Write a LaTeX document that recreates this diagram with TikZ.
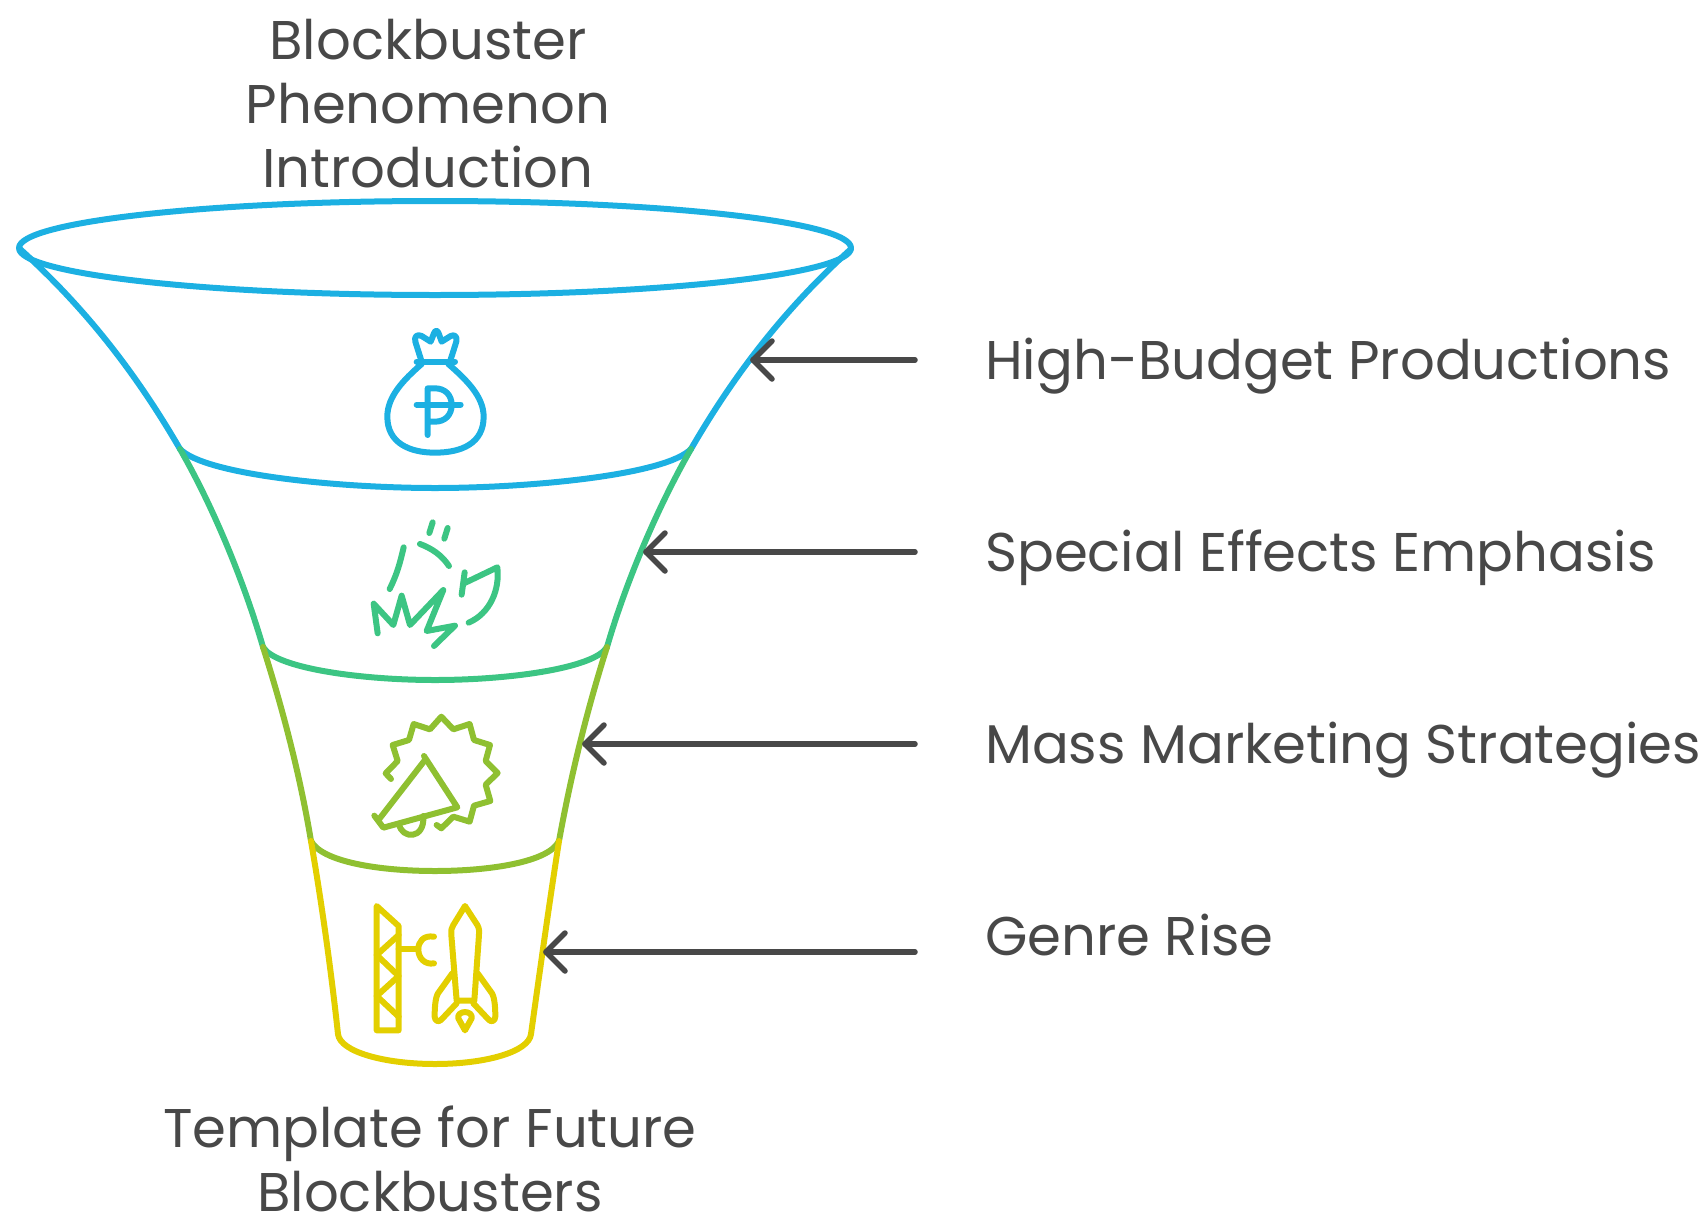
\documentclass[tikz,border=0pt]{standalone}
\usepackage{fontspec}
\setmainfont{Poppins}
\definecolor{cblue}{HTML}{1CB0E2}
\definecolor{cgreen}{HTML}{3CC583}
\definecolor{clime}{HTML}{8FC031}
\definecolor{cyel}{HTML}{E3CF00}
\definecolor{ctext}{HTML}{484848}
\tikzset{
  seg/.style={line width=6pt,line cap=round,line join=round},
  ico/.style={line width=6pt,line cap=round,line join=round},
  lbl/.style={text=ctext,font=\fontsize{54.5}{64}\selectfont,inner sep=0pt,align=center},
  side/.style={lbl,anchor=base west},
  arr/.style={line width=5.5pt,color=ctext,line cap=round,line join=round},
}
\begin{document}
\begin{tikzpicture}[x=1pt,y=-1pt]
\useasboundingbox (0,0) rectangle (1704,1218);
% funnel
\coordinate (a0l) at (20,249); \coordinate (a0r) at (851,249);
\coordinate (a1l) at (180,449); \coordinate (a1r) at (691,449);
\coordinate (a2l) at (263,647); \coordinate (a2r) at (607,647);
\coordinate (a3l) at (311,841); \coordinate (a3r) at (559,841);
\coordinate (a4l) at (338,1034); \coordinate (a4r) at (531,1034);
\draw[seg,cblue] (a0l) .. controls (90,312) and (140,380) .. (a1l);
\draw[seg,cblue] (a0r) .. controls (781,312) and (731,380) .. (a1r);
\draw[seg,cblue] (a1l) .. controls (205,475) and (340,488) .. (435,488) .. controls (530,488) and (666,475) .. (a1r);
\draw[seg,cgreen] (a1l) .. controls (215,510) and (245,585) .. (a2l);
\draw[seg,cgreen] (a1r) .. controls (656,510) and (625,585) .. (a2r);
\draw[seg,cgreen] (a2l) .. controls (275,668) and (360,680) .. (435,680) .. controls (510,680) and (595,668) .. (a2r);
\draw[seg,clime] (a2l) .. controls (283,710) and (300,775) .. (a3l);
\draw[seg,clime] (a2r) .. controls (587,710) and (571,775) .. (a3r);
\draw[seg,clime] (a3l) .. controls (322,862) and (380,871) .. (435,871) .. controls (490,871) and (549,862) .. (a3r);
\draw[seg,cyel] (a3l) .. controls (322,905) and (331,970) .. (a4l);
\draw[seg,cyel] (a3r) .. controls (549,905) and (540,970) .. (a4r);
\draw[seg,cyel] (a4l) .. controls (340,1052) and (385,1064) .. (435,1064) .. controls (485,1064) and (529,1052) .. (a4r);
\draw[seg,cblue] (435,248) ellipse [x radius=416,y radius=47];
% money bag
\begin{scope}[shift={(340,310)},x=0.3333pt,y=-0.3333pt,ico,cblue]
\draw (245,155) -- (226,95) .. controls (222,78) and (232,72) .. (245,78) -- (272,95) -- (282,70) .. controls (286,60) and (292,60) .. (296,70) -- (305,95) -- (332,78) .. controls (345,72) and (352,80) .. (349,95) -- (330,155);
\draw (230,155) -- (345,155);
\draw (245,162) .. controls (190,210) and (142,260) .. (142,320) .. controls (142,400) and (210,428) .. (285,428) .. controls (365,428) and (431,400) .. (431,320) .. controls (431,260) and (380,210) .. (325,162);
\draw (263,375) -- (263,235) -- (285,235) .. controls (315,235) and (335,255) .. (335,285) .. controls (335,315) and (315,335) .. (285,335) -- (263,335);
\draw (230,284) -- (362,284);
\end{scope}
% effects
\begin{scope}[shift={(340,500)},x=0.3333pt,y=-0.3333pt,ico,cgreen]
\draw (278,67) -- (268,99);
\draw (323,84) -- (313,116);
\draw (240,132) .. controls (275,145) and (305,165) .. (327,198);
\draw (191,142) .. controls (180,190) and (170,225) .. (149,267);
\draw (113,400) -- (101,311) -- (160,375) -- (185,287) -- (210,375) -- (310,270) -- (260,393) -- (345,377) -- (282,438);
\draw (374,217) -- (365,284);
\draw (372,250) -- (472,202) .. controls (480,270) and (450,340) .. (386,368);
\end{scope}
% megaphone
\begin{scope}[shift={(340,700)},x=0.3333pt,y=-0.3333pt,ico,clime]
\draw (153,237) -- (137,220) -- (173,183) -- (158,135) -- (207,120) -- (221,72) -- (270,88) -- (304,50) -- (340,88) -- (389,72) -- (402,120) -- (450,135) -- (437,183) -- (473,219) -- (437,254) -- (451,303) -- (402,317) -- (389,365) -- (340,350) -- (304,385) -- (290,375);
\draw (252,168) -- (352,322) -- (130,383) -- (103,347);
\draw (117,358) -- (255,180);
\draw (177,372) .. controls (185,418) and (255,420) .. (250,348);
\end{scope}
% tower and rocket
\begin{scope}[shift={(340,890)},x=0.3333pt,y=-0.3333pt,ico,cyel]
\draw (110,48) -- (176,108) -- (176,421) -- (110,421) -- cycle;
\draw (176,135) -- (110,195) -- (176,258) -- (110,318) -- (176,380);
\draw (176,178) -- (235,178);
\draw (282,140) .. controls (250,135) and (235,155) .. (235,178) .. controls (235,205) and (255,225) .. (282,220);
\draw (375,48) -- (412,105) .. controls (418,115) and (418,125) .. (417,135) -- (403,332) -- (350,332) -- (334,135) .. controls (333,120) and (335,112) .. (340,105) -- cycle;
\draw (337,250) -- (294,310) .. controls (285,325) and (284,360) .. (284,380) .. controls (285,393) and (295,397) .. (303,390) -- (350,340);
\draw (413,250) -- (456,310) .. controls (465,325) and (466,360) .. (466,380) .. controls (465,393) and (455,397) .. (447,390) -- (400,340);
\draw (375,421) -- (355,385) .. controls (350,360) and (400,360) .. (395,385) -- cycle;
\end{scope}
% texts
\node[lbl] (top) at (428,104) {Blockbuster\\Phenomenon\\Introduction};
\node[lbl] (bot) at (430,1159) {Template for Future\\Blockbusters};
\node[side] (t1) at (985,379) {High-Budget Productions};
\node[side] (t2) at (985,571) {Special Effects Emphasis};
\node[side] (t3) at (985,763) {Mass Marketing Strategies};
\node[side] (t4) at (985,955) {Genre Rise};
% arrows
\foreach \i/\xa/\ya in {1/753/360,2/646/552,3/585/744,4/546/952}{
  \coordinate (s\i) at (915,\ya);
  \coordinate (e\i) at (\xa,\ya);
  \draw[arr] (s\i) -- (e\i);
  \draw[arr] ([xshift=19pt,yshift=-19pt]e\i) -- (e\i) -- ([xshift=19pt,yshift=19pt]e\i);
}
\end{tikzpicture}
\end{document}
